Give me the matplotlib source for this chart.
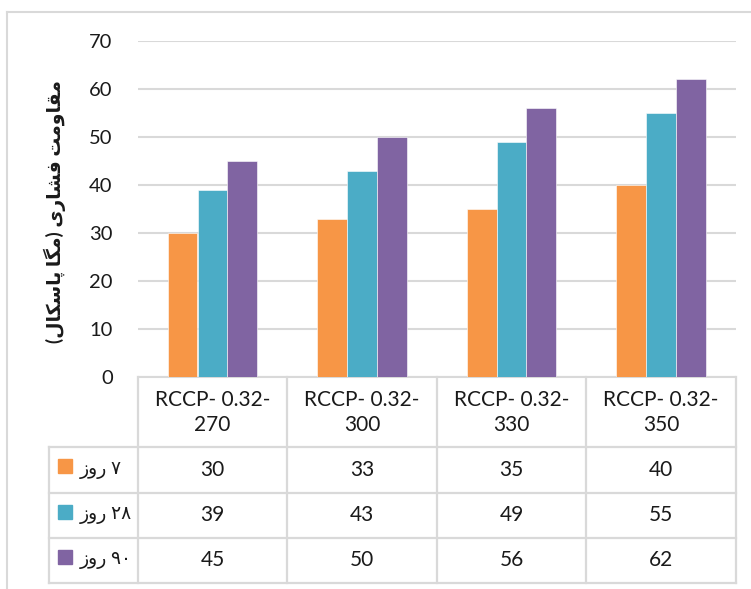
import re
import matplotlib
matplotlib.use("Agg")
import matplotlib.pyplot as plt
from matplotlib.lines import Line2D

plt.rcParams['font.family'] = ['Lato', 'DejaVu Sans']

categories = ['RCCP- 0.32-\n270', 'RCCP- 0.32-\n300', 'RCCP- 0.32-\n330', 'RCCP- 0.32-\n350']
series_names = ['۷ روز', '۲۸ روز', '۹۰ روز']
day7 = [30, 33, 35, 40]
day28 = [39, 43, 49, 55]
day90 = [45, 50, 56, 62]
series_values = [day7, day28, day90]
colors = ['#F79646', '#4BACC6', '#8064A2']
y_label = 'مقاومت فشاری (مگا پاسکال)'
y_ticks = [0, 10, 20, 30, 40, 50, 60, 70]

# joining forms: isolated, final, initial, medial (None = does not join forward)
FORMS = {
    'ا': ('\uFE8D', '\uFE8E', None, None),
    'و': ('\uFEED', '\uFEEE', None, None),
    'ر': ('\uFEAD', '\uFEAE', None, None),
    'ز': ('\uFEAF', '\uFEB0', None, None),
    'م': ('\uFEE1', '\uFEE2', '\uFEE3', '\uFEE4'),
    'ق': ('\uFED5', '\uFED6', '\uFED7', '\uFED8'),
    'ت': ('\uFE95', '\uFE96', '\uFE97', '\uFE98'),
    'ف': ('\uFED1', '\uFED2', '\uFED3', '\uFED4'),
    'ش': ('\uFEB5', '\uFEB6', '\uFEB7', '\uFEB8'),
    'س': ('\uFEB1', '\uFEB2', '\uFEB3', '\uFEB4'),
    'ل': ('\uFEDD', '\uFEDE', '\uFEDF', '\uFEE0'),
    'ی': ('\uFBFC', '\uFBFD', '\uFBFE', '\uFBFF'),
    'گ': ('\uFB92', '\uFB93', '\uFB94', '\uFB95'),
    'پ': ('\uFB56', '\uFB57', '\uFB58', '\uFB59'),
    'ک': ('\uFB8E', '\uFB8F', '\uFB90', '\uFB91'),
}


def fa(text):
    out = []
    for k, ch in enumerate(text):
        if ch not in FORMS:
            out.append(ch)
            continue
        prev = text[k - 1] if k > 0 else ''
        nxt = text[k + 1] if k + 1 < len(text) else ''
        iso, fin, ini, med = FORMS[ch]
        jp = prev in FORMS and FORMS[prev][2] is not None
        jn = nxt in FORMS and ini is not None
        if jp and jn:
            out.append(med)
        elif jp:
            out.append(fin)
        elif jn:
            out.append(ini)
        else:
            out.append(iso)
    vis = ''.join(reversed(out))
    vis = vis.translate(str.maketrans('()', ')('))
    # numbers keep their left-to-right order
    vis = re.sub(r'[0-9\u06F0-\u06F9]+', lambda m: m.group(0)[::-1], vis)
    return vis


W, H = 751, 589
fig = plt.figure(figsize=(W / 100, H / 100), dpi=100)
grid_c = '#d9d9d9'
txt_c = '#1a1a1a'

x0, x1 = 137.7, 735.7
top, base, bottom = 40.7, 377.4, 583.0
ax = fig.add_axes([x0 / W, 1 - base / H, (x1 - x0) / W, (base - top) / H])
tx = fig.add_axes([x0 / W, 1 - bottom / H, (x1 - x0) / W, (bottom - base) / H], sharex=ax)

xs = range(len(categories))
bw = 0.2
for j, (vals, c) in enumerate(zip(series_values, colors)):
    ax.bar([x + (j - 1) * bw for x in xs], vals, width=bw, color=c,
           edgecolor='white', linewidth=0.4, zorder=3)

ax.set_xlim(-0.5, len(categories) - 0.5)
ax.set_ylim(0, 70)
ax.set_yticks(y_ticks)
ax.grid(axis='y', color=grid_c, linewidth=1.5, zorder=0)
ax.tick_params(axis='y', length=0, pad=18, labelsize=14.5, labelcolor=txt_c)
ax.tick_params(axis='x', length=0, labelbottom=False)
for s in ['top', 'right', 'left']:
    ax.spines[s].set_visible(False)
ax.spines['bottom'].set_color(grid_c)
ax.spines['bottom'].set_linewidth(1.5)

# data table under the bars
head = 1.55
nrows = len(series_names)
tx.set_ylim(head + nrows, 0)
tx.axis('off')
lx = -1.09
lw = 1.6
for r in range(nrows + 1):
    tx.plot([lx, len(categories) - 0.5], [head + r] * 2, color=grid_c, lw=lw, clip_on=False)
for i in range(len(categories) + 1):
    tx.plot([i - 0.5] * 2, [0, head + nrows], color=grid_c, lw=lw, clip_on=False)
tx.plot([lx, lx], [head, head + nrows], color=grid_c, lw=lw, clip_on=False)

for i, cat in enumerate(categories):
    tx.text(i, head / 2, cat, ha='center', va='center', fontsize=15, linespacing=1.3, color=txt_c)
for j, (name, vals, c) in enumerate(zip(series_names, series_values, colors)):
    yc = head + j + 0.5
    tx.plot(lx + 0.105, yc - 0.08, marker='s', markersize=10, color=c, clip_on=False)
    tx.text(lx + 0.2, yc, fa(name), ha='left', va='center', fontsize=13.5, color=txt_c, clip_on=False)
    for i, v in enumerate(vals):
        tx.text(i, yc, str(v), ha='center', va='center', fontsize=15, color=txt_c)

fig.text(55 / W, 1 - 212 / H, fa(y_label), rotation=90, ha='center', va='center',
         fontsize=13.5, fontweight='bold', color=txt_c)

# outer chart frame (top and left edges)
fig.add_artist(Line2D([7 / W, 1], [1 - 12 / H] * 2, transform=fig.transFigure, color=grid_c, lw=1.5))
fig.add_artist(Line2D([7 / W] * 2, [0, 1 - 12 / H], transform=fig.transFigure, color=grid_c, lw=1.5))

fig.savefig('out.png', dpi=100)
